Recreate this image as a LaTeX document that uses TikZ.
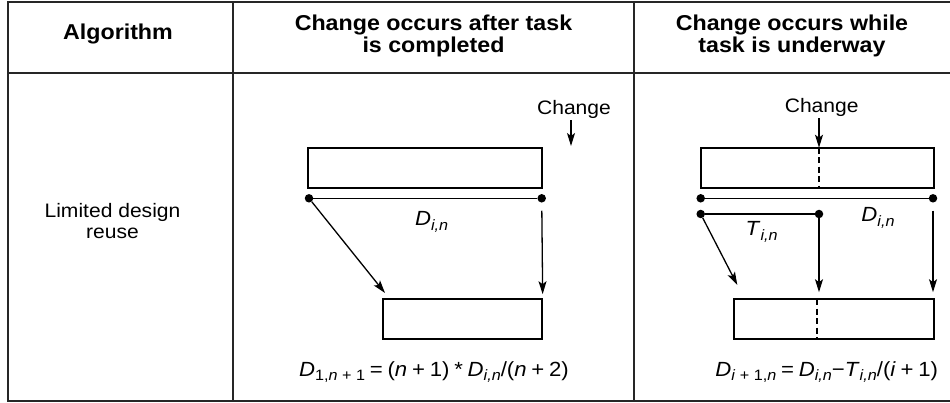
\documentclass[tikz,border=0pt]{standalone}
\usepackage{fontspec}
\setmainfont{Liberation Sans}[FakeStretch=1.08]
\usetikzlibrary{arrows.meta, positioning}
\newcommand{\subsc}[1]{\raisebox{-0.45ex}{\fontsize{15}{15}\selectfont #1}}
\newcommand{\gap}{\hspace{4.8pt}}

\begin{document}
\begin{tikzpicture}[x=1pt, y=-1pt,
    grid/.style={line width=2pt, draw=black!85},
    taskbox/.style={rectangle, draw, line width=2pt, minimum height=40pt, inner sep=0pt},
    dot/.style={circle, fill, inner sep=0pt, minimum size=8.5pt},
    span/.style={line width=1.2pt},
    arr/.style={-{Stealth[length=13pt, width=8pt, inset=3pt]}, line width=1.3pt},
    split/.style={line width=2pt, dash pattern=on 6pt off 3.5pt},
    head/.style={font=\fontsize{21.5}{21.6}\selectfont\bfseries, align=center},
    body/.style={font=\fontsize{19.5}{21.5}\selectfont, align=center, inner sep=2pt},
    eqn/.style={font=\fontsize{20.5}{22}\selectfont, inner sep=2pt}]
  \useasboundingbox (0,0) rectangle (950,403);

  % table
  \draw[grid] (950,1.7) -- (7.5,1.7) -- (7.5,400.7) -- (950,400.7);
  \draw[grid] (7.5,72.7) -- (950,72.7);
  \draw[grid] (233,1.7) -- (233,400.7);
  \draw[grid] (634,1.7) -- (634,400.7);

  \node[head] (hAlg) at (118,34) {Algorithm};
  \node[head] (hAfter) at (433.5,36) {Change occurs after task\\is completed};
  \node[head] (hWhile) at (792,36) {Change occurs while\\task is underway};
  \node[body] (reuse) at (112.5,221) {Limited design\\reuse};

  % change after task
  \node[taskbox, minimum width=233.7pt] (old1) at (424.85,167.7) {};
  \node[taskbox, minimum width=159pt] (new1) at (462.2,319.2) {};
  \node[dot] (d1a) at (309,198.3) {};
  \node[dot] (d1b) at (541.7,198.3) {};
  \draw[span] (d1a) -- (d1b);
  \node[eqn] (dur1) at (431.7,221.7) {\textit{D}\subsc{\textit{i,n}}};
  \node[body] (change1) at (574,109) {Change};
  \coordinate (hit1) at (571,146);
  \coordinate (tip1) at (385,293);
  \draw[arr] (change1.south -| hit1) -- (hit1);
  \draw[arr] (d1a) -- (tip1);
  \draw[arr, shorten <=8pt, shorten >=4pt] (d1b) -- (new1.north east);
  \node[eqn] (f1) at (434,372)
    {\textit{D}\subsc{1,\textit{n} + 1}\gap=\gap(\textit{n}\gap+\gap1)\gap*\gap\textit{D}\subsc{\textit{i,n}}/(\textit{n}\gap+\gap2)};

  % change while task is underway
  \node[taskbox, minimum width=233.6pt] (old2) at (817.5,167.7) {};
  \node[taskbox, minimum width=200pt] (new2) at (834.3,319.2) {};
  \coordinate (cut2a) at (819,147.7);
  \coordinate (cut2b) at (816.7,299);
  \draw[split] (cut2a) -- (cut2a |- old2.south);
  \draw[split] (cut2b) -- (cut2b |- new2.south);
  \node[body] (change2) at (821.7,107) {Change};
  \draw[arr] (change2.south -| cut2a) -- (cut2a);
  \node[dot] (e1a) at (700.7,198.3) {};
  \node[dot] (e1b) at (933,198.3) {};
  \node[dot] (e2a) at (700.7,214) {};
  \node[dot] (e2m) at (819,214) {};
  \draw[span] (e1a) -- (e1b);
  \draw[span] (e2a) -- (e2m);
  \node[eqn] (tsk2) at (761.7,231.7) {\textit{T}\subsc{\textit{i,n}}};
  \node[eqn] (dur2) at (878,218) {\textit{D}\subsc{\textit{i,n}}};
  \coordinate (tip2) at (737.3,285);
  \draw[arr] (e2a) -- (tip2);
  \draw[arr, shorten >=6pt] (e2m) -- (e2m |- new2.north);
  \draw[arr, shorten <=8pt, shorten >=6pt] (e1b) -- (e1b |- new2.north);
  \node[eqn] (f2) at (826.7,372)
    {\textit{D}\subsc{\textit{i} + 1,\textit{n}}\gap=\gap\textit{D}\subsc{\textit{i,n}}−\textit{T}\subsc{\textit{i,n}}/(\textit{i}\gap+\gap1)};
\end{tikzpicture}
\end{document}
